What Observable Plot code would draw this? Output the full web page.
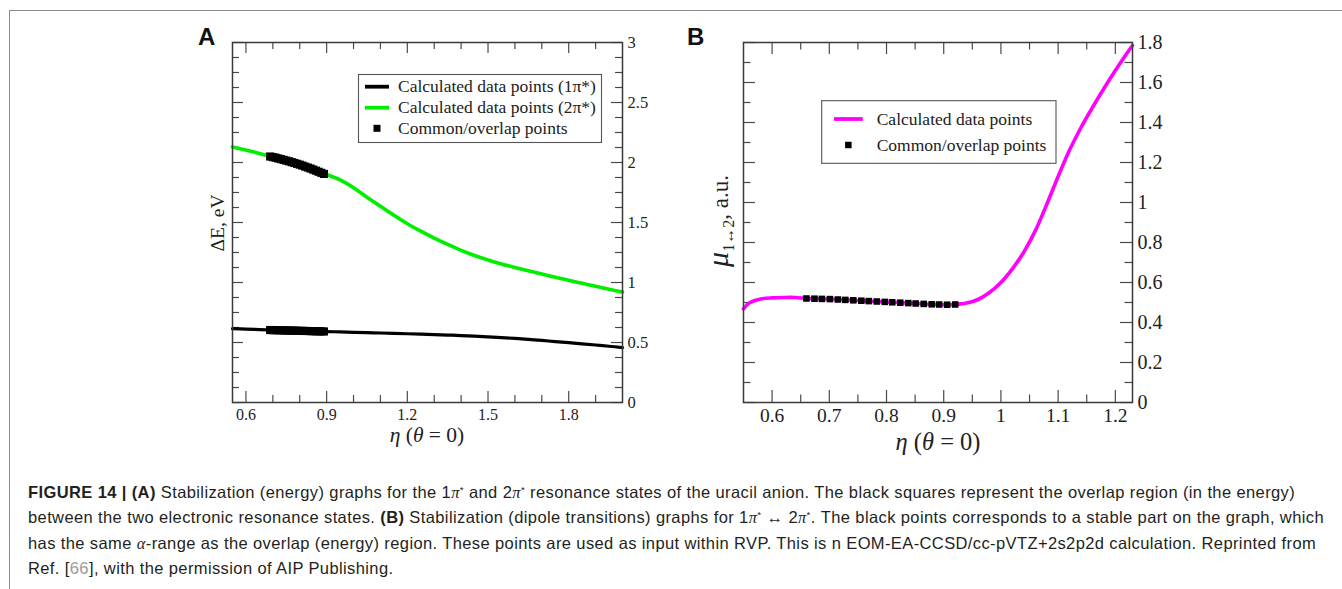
<!DOCTYPE html>
<html><head><meta charset="utf-8">
<script src="https://cdn.jsdelivr.net/npm/d3@7"></script>
<script src="https://cdn.jsdelivr.net/npm/@observablehq/plot@0.6"></script>
<style>
html,body{margin:0;padding:0;background:#fff;}
#page{position:relative;width:1342px;height:589px;overflow:hidden;background:#fff;}
#border{position:absolute;left:9px;top:10px;right:-5px;bottom:-5px;border-top:1.5px solid #8a8a8a;border-left:1.5px solid #8a8a8a;}
#plotA{position:absolute;left:150px;top:20px;}
#plotB{position:absolute;left:670px;top:20px;}
#caption{position:absolute;left:28px;top:479.5px;font-family:"Liberation Sans",Arial,sans-serif;font-size:16.5px;line-height:24.5px;color:#231f20;white-space:nowrap;}
#caption div{display:block;width:max-content;}
#caption sup{font-size:0.6em;vertical-align:0.55em;line-height:0;}
#caption i{font-family:'Liberation Serif',serif;}
</style></head>
<body><div id="page"><div id="border"></div><div id="plotA"></div><div id="plotB"></div>
<div id="caption">
<div><b>FIGURE 14 | (A)</b> Stabilization (energy) graphs for the 1<i>π</i><sup>*</sup> and 2<i>π</i><sup>*</sup> resonance states of the uracil anion. The black squares represent the overlap region (in the energy)</div>
<div>between the two electronic resonance states. <b>(B)</b> Stabilization (dipole transitions) graphs for 1<i>π</i><sup>*</sup> ↔ 2<i>π</i><sup>*</sup>. The black points corresponds to a stable part on the graph, which</div>
<div>has the same <i>α</i>-range as the overlap (energy) region. These points are used as input within RVP. This is n EOM-EA-CCSD/cc-pVTZ+2s2p2d calculation. Reprinted from</div>
<div>Ref. [<span style="color:#9a9a9a">66</span>], with the permission of AIP Publishing.</div>
</div>
</div>
<script>
// ---------- Panel A data ----------
const etaA = [0.55,0.60,0.65,0.70,0.75,0.80,0.85,0.90,0.95,1.00,1.05,1.10,1.15,1.20,1.25,1.30,1.35,1.40,1.45,1.50,1.55,1.60,1.65,1.70,1.75,1.80,1.85,1.90,1.95,2.00];
const dE1pi = [0.615,0.612,0.608,0.604,0.600,0.597,0.594,0.591,0.588,0.585,0.582,0.579,0.576,0.573,0.570,0.566,0.562,0.558,0.553,0.547,0.541,0.534,0.526,0.517,0.508,0.499,0.489,0.479,0.469,0.458];
const dE2pi = [2.130,2.105,2.075,2.045,2.016,1.982,1.941,1.900,1.855,1.790,1.710,1.635,1.560,1.490,1.428,1.370,1.317,1.268,1.225,1.188,1.155,1.125,1.097,1.070,1.044,1.018,0.993,0.968,0.944,0.920];
const etaAOverlap = [0.69,0.70,0.71,0.72,0.73,0.74,0.75,0.76,0.77,0.78,0.79,0.80,0.81,0.82,0.83,0.84,0.85,0.86,0.87,0.88,0.89];
const dE1Overlap = [0.604,0.603,0.603,0.602,0.602,0.601,0.600,0.600,0.599,0.599,0.598,0.597,0.597,0.596,0.596,0.595,0.594,0.594,0.593,0.593,0.592];
const dE2Overlap = [2.050,2.045,2.040,2.034,2.028,2.022,2.016,2.010,2.003,1.996,1.989,1.982,1.974,1.966,1.958,1.950,1.941,1.932,1.923,1.914,1.905];
const aXMajor = [0.6,0.9,1.2,1.5,1.8];
const aXMinor = [0.7,0.8,1.0,1.1,1.3,1.4,1.6,1.7,1.9];
const aYMajor = [0,0.5,1,1.5,2,2.5,3];
const aYMinor = [0.125,0.25,0.375,0.625,0.75,0.875,1.125,1.25,1.375,1.625,1.75,1.875,2.125,2.25,2.375,2.625,2.75,2.875];
const legendA = ["Calculated data points (1π*)","Calculated data points (2π*)","Common/overlap points"];

// ---------- Panel B data ----------
const etaB = [0.55,0.555,0.56,0.57,0.58,0.60,0.62,0.64,0.660,0.674,0.687,0.701,0.715,0.728,0.742,0.756,0.769,0.783,0.797,0.810,0.824,0.838,0.851,0.865,0.879,0.892,0.906,0.920,0.94,0.96,0.98,1.00,1.02,1.04,1.06,1.08,1.10,1.12,1.14,1.16,1.18,1.20,1.22,1.23];
const muB = [0.468,0.485,0.497,0.510,0.518,0.523,0.525,0.525,0.520,0.519,0.518,0.517,0.515,0.513,0.511,0.509,0.507,0.505,0.503,0.501,0.499,0.497,0.495,0.493,0.491,0.490,0.489,0.490,0.497,0.515,0.550,0.600,0.668,0.752,0.858,0.990,1.130,1.262,1.375,1.475,1.570,1.660,1.745,1.785];
const etaBOverlap = [0.660,0.674,0.687,0.701,0.715,0.728,0.742,0.756,0.769,0.783,0.797,0.810,0.824,0.838,0.851,0.865,0.879,0.892,0.906,0.920];
const muBOverlap = [0.520,0.519,0.518,0.517,0.515,0.513,0.511,0.509,0.507,0.505,0.503,0.501,0.499,0.497,0.495,0.493,0.491,0.490,0.489,0.490];
const bXMajor = [0.6,0.7,0.8,0.9,1,1.1,1.2];
const bXMinor = [0.65,0.75,0.85,0.95,1.05,1.15];
const bYMajor = [0,0.2,0.4,0.6,0.8,1,1.2,1.4,1.6,1.8];
const bYMinor = [0.1,0.3,0.5,0.7,0.9,1.1,1.3,1.5,1.7];
const legendB = ["Calculated data points","Common/overlap points"];

const serif = "'Liberation Serif','Times New Roman',serif";
const tickColor = "#4a4a4a";
const green = "#00ee00", magenta = "#ff00ff";

const zipA = (xs, ys) => xs.map((x, i) => ({x, y: ys[i]}));

function inwardTicks(xMaj, xMin, yMaj, yMin, fw, fh, majLen, minLen) {
  const o = {stroke: tickColor, strokeWidth: 1.2};
  return [
    Plot.ruleX(xMaj, {...o, insetTop: fh - majLen}),
    Plot.ruleX(xMin, {...o, insetTop: fh - minLen}),
    Plot.ruleX(xMaj, {...o, insetBottom: fh - majLen}),
    Plot.ruleX(xMin, {...o, insetBottom: fh - minLen}),
    Plot.ruleY(yMaj, {...o, insetRight: fw - majLen}),
    Plot.ruleY(yMin, {...o, insetRight: fw - minLen}),
    Plot.ruleY(yMaj, {...o, insetLeft: fw - majLen}),
    Plot.ruleY(yMin, {...o, insetLeft: fw - minLen})
  ];
}

// ---------- Plot A ----------
const A = {w: 520, h: 440, ml: 82, mr: 48, mt: 22, mb: 58};
const fwA = A.w - A.ml - A.mr, fhA = A.h - A.mt - A.mb;
const plotA = Plot.plot({
  width: A.w, height: A.h, marginLeft: A.ml, marginRight: A.mr, marginTop: A.mt, marginBottom: A.mb,
  style: {fontFamily: serif, fontSize: "16px", color: "#222", background: "transparent", overflow: "visible"},
  x: {domain: [0.55, 2.0], label: null},
  y: {domain: [0, 3], label: null},
  marks: [
    ...inwardTicks(aXMajor, aXMinor, aYMajor, aYMinor, fwA, fhA, 11, 7),
    Plot.line(zipA(etaA, dE2pi), {x: "x", y: "y", stroke: green, strokeWidth: 3.6, curve: "catmull-rom"}),
    Plot.line(zipA(etaA, dE1pi), {x: "x", y: "y", stroke: "#000", strokeWidth: 3.2, curve: "catmull-rom"}),
    Plot.dot(zipA(etaAOverlap, dE2Overlap), {x: "x", y: "y", symbol: "square", r: 4.6, fill: "#000", stroke: "none"}),
    Plot.dot(zipA(etaAOverlap, dE1Overlap), {x: "x", y: "y", symbol: "square", r: 4.6, fill: "#000", stroke: "none"}),
    Plot.frame({stroke: "#3a3a3a", strokeWidth: 1.5}),
    Plot.axisX(aXMajor, {anchor: "bottom", tickSize: 0, tickPadding: 6, fontSize: 16, tickFormat: d => String(d), label: null}),
    Plot.axisY(aYMajor, {anchor: "right", tickSize: 0, tickPadding: 5, fontSize: 16.5, tickFormat: d => String(d), label: null})
  ]
});
document.getElementById("plotA").append(plotA);

// ---------- Plot B ----------
const B = {w: 540, h: 440, ml: 73, mr: 78, mt: 22, mb: 58};
const fwB = B.w - B.ml - B.mr, fhB = B.h - B.mt - B.mb;
const plotB = Plot.plot({
  width: B.w, height: B.h, marginLeft: B.ml, marginRight: B.mr, marginTop: B.mt, marginBottom: B.mb,
  style: {fontFamily: serif, fontSize: "20px", color: "#222", background: "transparent", overflow: "visible"},
  x: {domain: [0.55, 1.23], label: null},
  y: {domain: [0, 1.8], label: null},
  marks: [
    ...inwardTicks(bXMajor, bXMinor, bYMajor, bYMinor, fwB, fhB, 12, 7.5),
    Plot.line(zipA(etaB, muB), {x: "x", y: "y", stroke: magenta, strokeWidth: 3.6, curve: "catmull-rom"}),
    Plot.dot(zipA(etaBOverlap, muBOverlap), {x: "x", y: "y", symbol: "square", r: 3.7, fill: "#000", stroke: "none"}),
    Plot.frame({stroke: "#3a3a3a", strokeWidth: 1.5}),
    Plot.axisX(bXMajor, {anchor: "bottom", tickSize: 0, tickPadding: 6, fontSize: 19.5, tickFormat: d => String(d), label: null}),
    Plot.axisY(bYMajor, {anchor: "right", tickSize: 0, tickPadding: 5, fontSize: 20, tickFormat: d => String(d), label: null})
  ]
});
document.getElementById("plotB").append(plotB);

// ---------- Titles, panel letters, legends ----------
function decorate(svgNode, cfg) {
  const svg = d3.select(svgNode);
  svg.append("text").attr("x", cfg.letter[0]).attr("y", cfg.letter[1]).attr("text-anchor", "start")
    .attr("font-family", "'Liberation Sans',Arial,sans-serif").attr("font-weight", "bold")
    .attr("font-size", 24).attr("fill", "#111").text(cfg.letterText);
  // x title
  const xt = svg.append("text").attr("x", cfg.xTitle[0]).attr("y", cfg.xTitle[1])
    .attr("text-anchor", "middle").attr("font-family", serif).attr("font-size", cfg.xTitleSize).attr("fill", "#222");
  xt.append("tspan").attr("font-style", "italic").text("η");
  xt.append("tspan").text(" (");
  xt.append("tspan").attr("font-style", "italic").text("θ");
  xt.append("tspan").text(" = 0)");
  // y title
  const yt = svg.append("text").attr("transform", `translate(${cfg.yTitle[0]},${cfg.yTitle[1]}) rotate(-90)`)
    .attr("text-anchor", "middle").attr("font-family", serif).attr("font-size", cfg.yTitleSize).attr("fill", "#222");
  cfg.yTitleBuild(yt);
  // legend
  const lg = svg.append("g").attr("font-family", serif).attr("font-size", cfg.legendSize).attr("fill", "#222").attr("text-anchor", "start");
  lg.append("rect").attr("x", cfg.box[0]).attr("y", cfg.box[1]).attr("width", cfg.box[2]).attr("height", cfg.box[3])
    .attr("fill", "#fff").attr("stroke", "#555").attr("stroke-width", 1.1);
  cfg.items.forEach((it, i) => {
    const y = cfg.rowY[i];
    if (it.type === "line") {
      lg.append("line").attr("x1", cfg.sample[0]).attr("x2", cfg.sample[1]).attr("y1", y).attr("y2", y)
        .attr("stroke", it.color).attr("stroke-width", 3.8);
    } else {
      const c = (cfg.sample[0] + cfg.sample[1]) / 2, s = cfg.sq;
      lg.append("rect").attr("x", c - s / 2).attr("y", y - s / 2).attr("width", s).attr("height", s).attr("fill", "#000");
    }
    lg.append("text").attr("x", cfg.textX).attr("y", y).attr("dy", "0.33em").attr("text-anchor", "start").text(it.label);
  });
}

decorate(plotA, {
  letterText: "A", letter: [48, 25],
  xTitle: [277, 422], xTitleSize: 21.5,
  yTitle: [74, 203], yTitleSize: 19.5,
  yTitleBuild: t => { t.text("ΔE, eV"); },
  legendSize: 17.5,
  box: [208.5, 54.5, 243, 68],
  sample: [215, 239], textX: 248, rowY: [66.7, 87.7, 108.3], sq: 7,
  items: [
    {type: "line", color: "#000", label: legendA[0]},
    {type: "line", color: green, label: legendA[1]},
    {type: "square", label: legendA[2]}
  ]
});

decorate(plotB, {
  letterText: "B", letter: [17, 25],
  xTitle: [268, 430], xTitleSize: 24.5,
  yTitle: [58, 201], yTitleSize: 23,
  yTitleBuild: t => {
    t.append("tspan").attr("font-style", "italic").attr("font-size", 30).text("μ");
    t.append("tspan").attr("font-size", 16).attr("dy", 6).text("1↔2");
    t.append("tspan").attr("dy", -6).text(", a.u.");
  },
  legendSize: 17.5,
  box: [151.7, 80.7, 234.3, 62.6],
  sample: [164, 192.7], textX: 206.7, rowY: [99, 125], sq: 6.5,
  items: [
    {type: "line", color: magenta, label: legendB[0]},
    {type: "square", label: legendB[1]}
  ]
});

// ---------- fit caption width ----------
const capLines = document.querySelectorAll("#caption div");
const target = 1296;
const w2 = capLines[1].getBoundingClientRect().width;
const n2 = capLines[1].textContent.length;
const ls = (target - w2) / n2;
document.getElementById("caption").style.letterSpacing = ls + "px";
</script>
</body></html>
